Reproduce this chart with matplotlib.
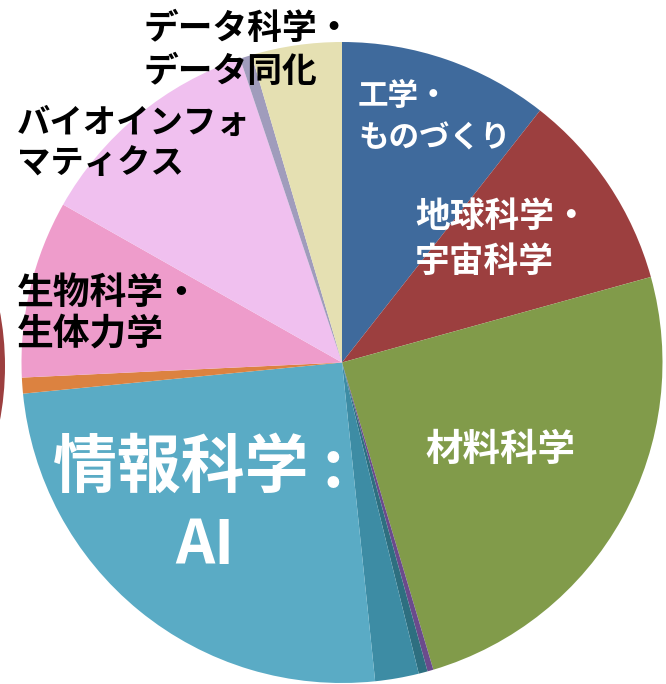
import matplotlib
matplotlib.use('Agg')
import matplotlib.pyplot as plt
from matplotlib.patches import Circle

plt.rcParams['font.family'] = ['Noto Sans CJK JP', 'DejaVu Sans']

# 分野ごとの割合 (%), 12時から時計回り
fields = ['工学・ものづくり', '地球科学・宇宙科学', '材料科学', 'その他1', 'その他2', 'その他3',
          '情報科学:AI', 'その他4', '生物科学・生体力学', 'バイオインフォマティクス', 'その他5',
          'データ科学・データ同化']
shares = [10.6, 10.1, 24.7, 0.3, 0.45, 2.2, 25.1, 0.8, 8.95, 11.65, 0.6, 4.55]
colors = ['#3f6a9c', '#9c3f3f', '#819b4a', '#6b4b8c', '#2e6f80', '#3d8ca4',
          '#5aabc5', '#dc8240', '#ee9ccb', '#f0c0ef', '#a09cbc', '#e5e0b2']

W, H = 666, 684
cx, cy, r = 342, 362.5, 320.5

fig = plt.figure(figsize=(W / 100, H / 100), dpi=100)
ax = fig.add_axes([0, 0, 1, 1])

# 左端に見切れている別の円
ax.add_patch(Circle((5 - 294, H - 366), 294, color='#9c3f3f', lw=0))

ax.pie(shares, colors=colors, startangle=90, counterclock=False,
       radius=r, center=(cx, H - cy), wedgeprops=dict(linewidth=0),
       frame=True)
ax.set_xlim(0, W)
ax.set_ylim(0, H)
ax.axis('off')


def put(lines, x, y, dy, size, color, ha='left'):
    for i, s in enumerate(lines):
        ax.text(x, H - (y + i * dy), s, fontsize=size, color=color, ha=ha,
                va='center', fontweight='bold')


put(['工学・', 'ものづくり'], 358, 96, 43, 22, 'white')
put(['地球科学・', '宇宙科学'], 415, 216, 45, 25, 'white')
put(['材料科学'], 425, 449, 0, 27, 'white')
put(['情報科学 :'], 198, 468, 0, 46, 'white', ha='center')
put(['AI'], 205, 546, 0, 44, 'white', ha='center')
put(['生物科学・', '生体力学'], 17, 293, 41, 26.5, 'black')
put(['バイオインフォ', 'マティクス'], 17, 123, 40, 24, 'black')
put(['データ科学・', 'データ同化'], 144, 29, 42, 25, 'black')

fig.savefig('out.png', dpi=100)
